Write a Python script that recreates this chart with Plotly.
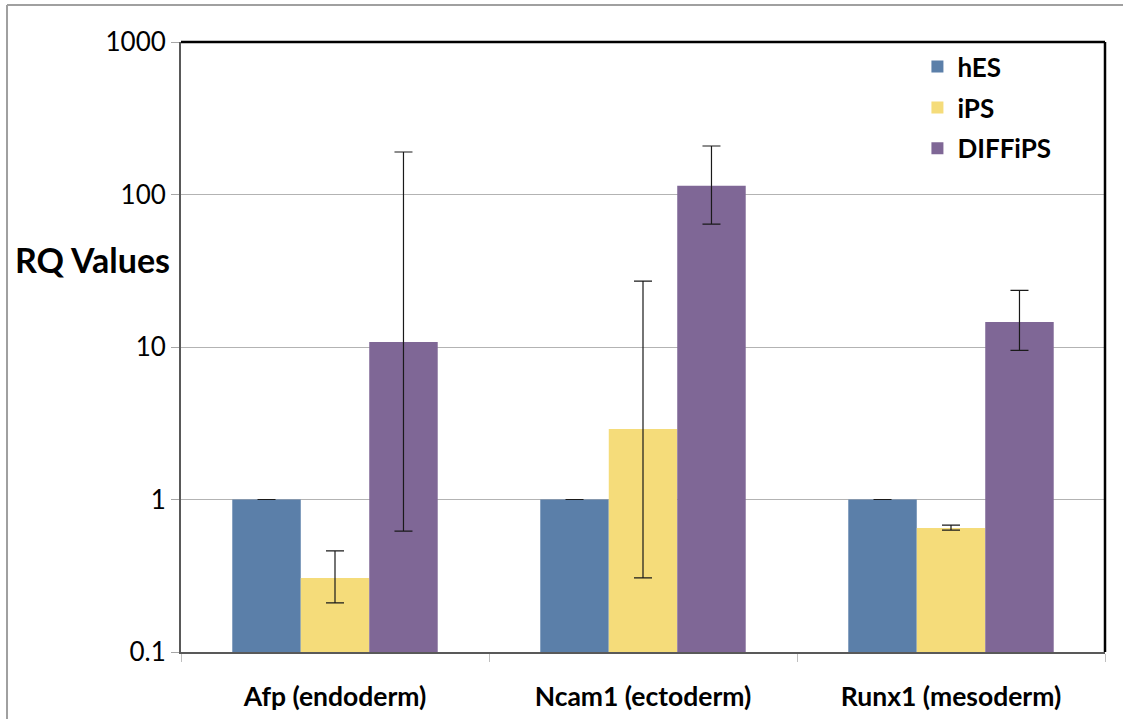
import plotly.graph_objects as go

categories = ["Afp (endoderm)", "Ncam1 (ectoderm)", "Runx1 (mesoderm)"]
series_names = ["hES", "iPS", "DIFFiPS"]
hes_values = [1.0, 1.0, 1.0]
ips_values = [0.306, 2.9, 0.65]
diff_values = [10.8, 114, 14.6]
hes_err_up = [0.0, 0.0, 0.0]
hes_err_down = [0.0, 0.0, 0.0]
ips_err_upper = [0.46, 27, 0.68]
ips_err_lower = [0.21, 0.306, 0.63]
diff_err_upper = [190, 208, 23.5]
diff_err_lower = [0.62, 64, 9.5]
colors = ["#5B7FA9", "#F5DC7A", "#7F6796"]
y_ticks = [0.1, 1, 10, 100, 1000]
y_tick_text = ["0.1", "1", "10", "100", "1000"]

def plus(vals, upper):
    return [u - v for v, u in zip(vals, upper)]

def minus(vals, lower):
    return [v - l for v, l in zip(vals, lower)]

err_style = dict(type="data", symmetric=False, color="#1a1a1a", thickness=1.2, width=9)

fig = go.Figure()
series = [
    (hes_values, hes_err_up, hes_err_down),
    (ips_values, plus(ips_values, ips_err_upper), minus(ips_values, ips_err_lower)),
    (diff_values, plus(diff_values, diff_err_upper), minus(diff_values, diff_err_lower)),
]
for i, (name, (vals, ep, em)) in enumerate(zip(series_names, series)):
    fig.add_trace(go.Bar(
        x=categories, y=vals, name=name,
        marker=dict(color=colors[i], line=dict(width=0)),
        error_y=dict(array=ep, arrayminus=em, **err_style),
        legendgroup=name,
    ))

FONT = "Lato, 'Open Sans', sans-serif"

fig.update_layout(
    width=1123, height=719,
    margin=dict(l=181, r=18, t=42, b=67, autoexpand=False),
    paper_bgcolor="white", plot_bgcolor="white",
    barmode="group", bargap=0.333, bargroupgap=0,
    font=dict(family=FONT, color="black"),
    showlegend=True,
    legend=dict(
        x=0.797, y=0.998, xanchor="left", yanchor="top",
        font=dict(size=26, family=FONT, weight="bold"),
        bgcolor="rgba(0,0,0,0)", borderwidth=0,
        traceorder="grouped", tracegroupgap=4, itemwidth=30,
    ),
    xaxis=dict(
        type="category", automargin=False,
        showline=True, linecolor="#595959", linewidth=2,
        ticks="outside", tickson="boundaries", ticklen=8, tickcolor="#BFBFBF", tickwidth=1,
        tickfont=dict(size=26.5, family=FONT, weight="bold"),
        ticklabelstandoff=20,
        showgrid=False,
    ),
    yaxis=dict(
        type="log", range=[-1, 3], automargin=False,
        tickvals=y_ticks, ticktext=y_tick_text,
        showline=True, linecolor="#595959", linewidth=2,
        ticks="outside", ticklen=8, tickcolor="#A6A6A6", tickwidth=1,
        tickfont=dict(size=26, family=FONT),
        showgrid=True, gridcolor="#B3B3B3", gridwidth=1,
        zeroline=False,
    ),
    annotations=[dict(
        text="<b>RQ Values</b>", x=-0.0963, y=0.644, xref="paper", yref="paper",
        showarrow=False, font=dict(size=34, family=FONT, color="black"),
        xanchor="center", yanchor="middle",
    )],
    shapes=[
        dict(type="line", xref="paper", yref="paper", x0=0, x1=1, y0=1, y1=1,
             line=dict(color="black", width=2.5)),
        dict(type="line", xref="paper", yref="paper", x0=1, x1=1, y0=0, y1=1,
             line=dict(color="black", width=2.5)),
        dict(type="line", xref="paper", yref="paper", x0=-0.1883, x1=1.02, y0=1.0607, y1=1.0607,
             line=dict(color="#A0A0A0", width=2)),
        dict(type="line", xref="paper", yref="paper", x0=-0.1883, x1=-0.1883, y0=-0.11, y1=1.0607,
             line=dict(color="#A0A0A0", width=2)),
    ],
)

fig.write_html("out.html", config={"displayModeBar": False},
               post_script="document.body.style.margin='0px';")
